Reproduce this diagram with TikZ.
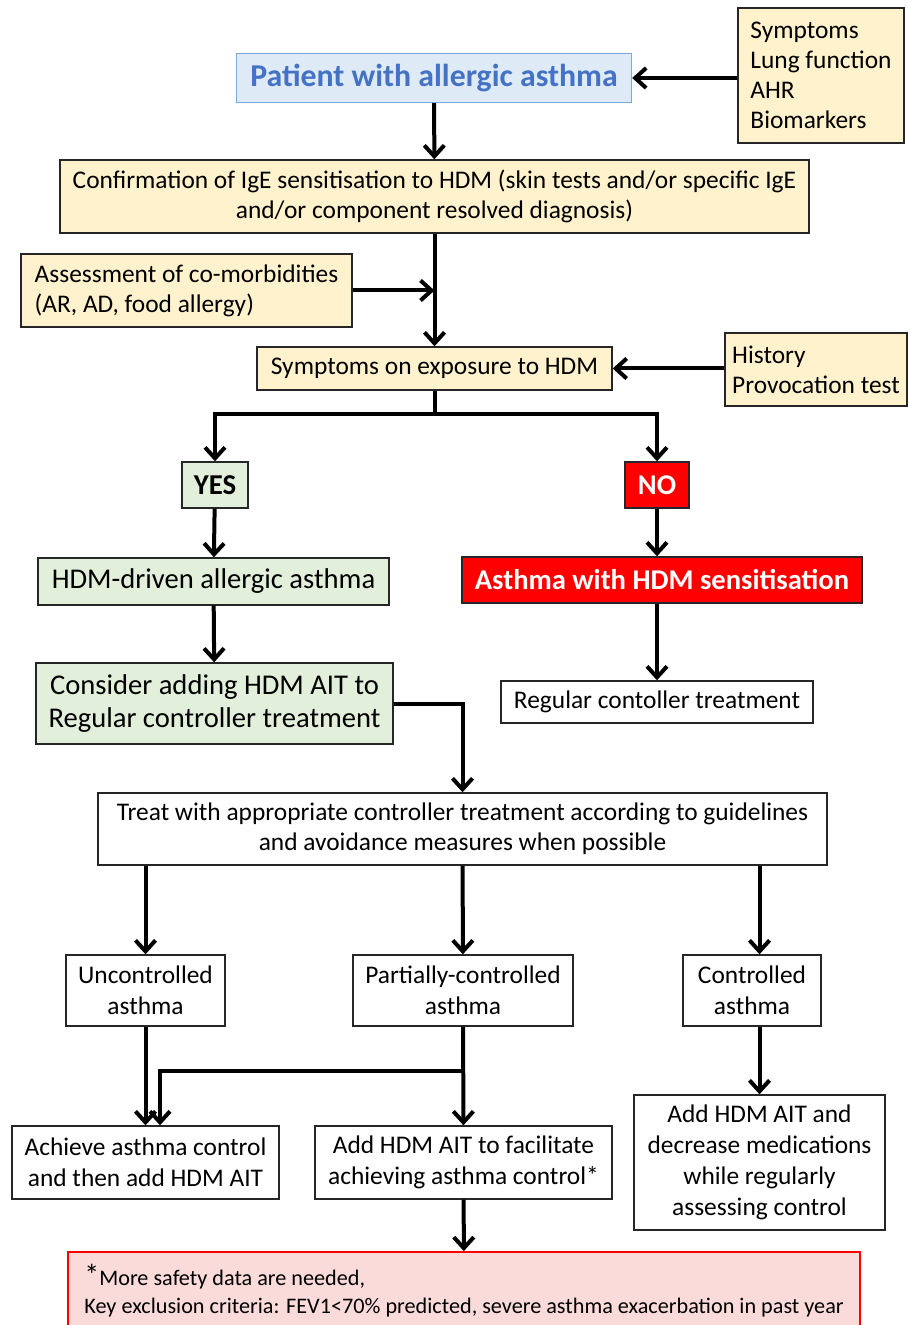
\documentclass[tikz,border=0pt]{standalone}
\usepackage{fontspec}
\setmainfont{Carlito}
\usetikzlibrary{arrows.meta}
\definecolor{infoyellow}{HTML}{FFF2CC}
\definecolor{startblue}{HTML}{DEEBF7}
\definecolor{startline}{HTML}{7FA7D9}
\definecolor{starttext}{HTML}{4472C4}
\definecolor{yesgreen}{HTML}{E2EFDA}
\definecolor{alertred}{HTML}{FF0000}
\definecolor{notepink}{HTML}{FBDADA}
\begin{document}
\begin{tikzpicture}[x=0.5pt,y=-0.5pt]
    \tikzstyle{box}=[draw=black!85,line width=0.7pt,inner sep=0pt,align=center,font=\fontsize{12.7}{15}\selectfont]
    \tikzstyle{info}=[box,fill=infoyellow]
    \tikzstyle{green}=[box,fill=yesgreen,font=\fontsize{14.3}{16.5}\selectfont]
    \tikzstyle{red}=[box,fill=alertred,text=white,font=\fontsize{14.3}{16}\bfseries]
    \tikzstyle{lower}=[box,font=\fontsize{12.7}{15.5}\selectfont]
    \tikzstyle{arr}=[line width=2pt,-{Straight Barb[length=5.5pt,width=10pt]}]
    \useasboundingbox (0,0) rectangle (908,1325);

      \node (P) at (434,78) [box,fill=startblue,draw=startline,text=starttext,font=\fontsize{15.9}{18}\bfseries,minimum width=197.5pt,minimum height=24.5pt] {Patient with allergic asthma};
      \node (S) at (821,75.5) [info,align=left,minimum width=83pt,minimum height=67.5pt] {Symptoms\\Lung function\\AHR\\Biomarkers};
      \node (Conf) at (434.5,196.5) [info,minimum width=374.5pt,minimum height=36.5pt] {Confirmation of IgE sensitisation to HDM (skin tests and/or specific IgE\\and/or component resolved diagnosis)};
      \node (Assess) at (186.5,290.5) [info,align=left,minimum width=165.5pt,minimum height=36.5pt] {Assessment of co-morbidities\\(AR, AD, food allergy)};
      \node (Expo) at (434.5,368.5) [info,minimum width=177.5pt,minimum height=21.5pt] {Symptoms on exposure to HDM};
      \node (Hist) at (816,369.5) [info,align=left,minimum width=91pt,minimum height=36.5pt] {History\\Provocation test};

      \node (Yes) at (215,485) [green,font=\fontsize{14.4}{16}\bfseries,minimum width=33pt,minimum height=23pt] {YES};
      \node (No) at (657,485) [red,minimum width=32pt,minimum height=23pt] {NO};
      \node (Driven) at (213.5,581.5) [green,minimum width=175.5pt,minimum height=23.5pt] {HDM-driven allergic asthma};
      \node (Sens) at (662,580) [red,minimum width=200pt,minimum height=23pt] {Asthma with HDM sensitisation};
      \node (Reg) at (657,702) [box,minimum width=156pt,minimum height=21pt] {Regular contoller treatment};
      \node (Consider) at (214.5,703.5) [green,minimum width=178.5pt,minimum height=40.5pt] {Consider adding HDM AIT to\\Regular controller treatment};

      \node (Treat) at (462.5,829) [box,minimum width=364.5pt,minimum height=36pt] {Treat with appropriate controller treatment according to guidelines\\and avoidance measures when possible};
      \node (Unc) at (145.5,990.5) [lower,minimum width=79.5pt,minimum height=35.5pt] {Uncontrolled\\asthma};
      \node (Part) at (463,990.5) [lower,minimum width=110pt,minimum height=35.5pt] {Partially-controlled\\asthma};
      \node (Ctrl) at (752,990.5) [lower,minimum width=69pt,minimum height=35.5pt] {Controlled\\asthma};
      \node (Ach) at (145.5,1162.5) [lower,minimum width=133.5pt,minimum height=36.5pt] {Achieve asthma control\\and then add HDM AIT};
      \node (AddP) at (463.5,1162.5) [lower,minimum width=148.5pt,minimum height=36.5pt] {Add HDM AIT to facilitate\\achieving asthma control*};
      \node (AddC) at (759.5,1162.5) [lower,minimum width=125.5pt,minimum height=67.5pt] {Add HDM AIT and\\decrease medications\\while regularly\\assessing control};
      \node (Foot) at (464,1291) [box,draw=alertred,line width=0.9pt,fill=notepink,align=left,font=\fontsize{11.1}{14}\selectfont,minimum width=396pt,minimum height=39pt] {{\fontsize{15}{14}\selectfont *}More safety data are needed,\\Key exclusion criteria: FEV1<70\% predicted, severe asthma exacerbation in past year};

      % inputs from the side
      \draw[arr] (S.west |- P.east) -- (P.east);
      \draw[arr] (P) -- (Conf);
      \draw[arr] (Conf) -- (Expo);
      \draw[arr] (Assess.east) -- (Assess.east -| Conf.south);
      \draw[arr] (Hist.west |- Expo.east) -- (Expo.east);

      % yes / no split
      \draw[line width=2pt] (Expo.south) -- ([yshift=-11.5pt]Expo.south) coordinate (split);
      \draw[arr] (split) -| (Yes.north);
      \draw[arr] (split) -| (No.north);
      \draw[arr] (Yes) -- (Driven);
      \draw[arr] (Driven) -- (Consider);
      \draw[arr] (No) -- (No |- Sens.north);
      \draw[arr] (Sens.south -| Reg.north) -- (Reg.north);
      \draw[arr] (Consider.east) -| (Treat.north);

      % control levels
      \draw[arr] (Treat.south -| Unc.north) -- (Unc.north);
      \draw[arr] (Treat) -- (Part);
      \draw[arr] (Treat.south -| AddC.north) -- (Ctrl.north -| AddC.north);
      \draw[arr] (Unc.south) -- (Unc.south |- Ach.north);
      \coordinate (branch) at ([yshift=-22pt]Part.south);
      \draw[arr] (Part) -- (AddP);
      \draw[arr] (branch) -| ([xshift=7.25pt]Ach.north);
      \draw[arr] (Ctrl.south -| AddC.north) -- (AddC.north);
      \draw[arr] (AddP) -- (Foot);
  \end{tikzpicture}
\end{document}
